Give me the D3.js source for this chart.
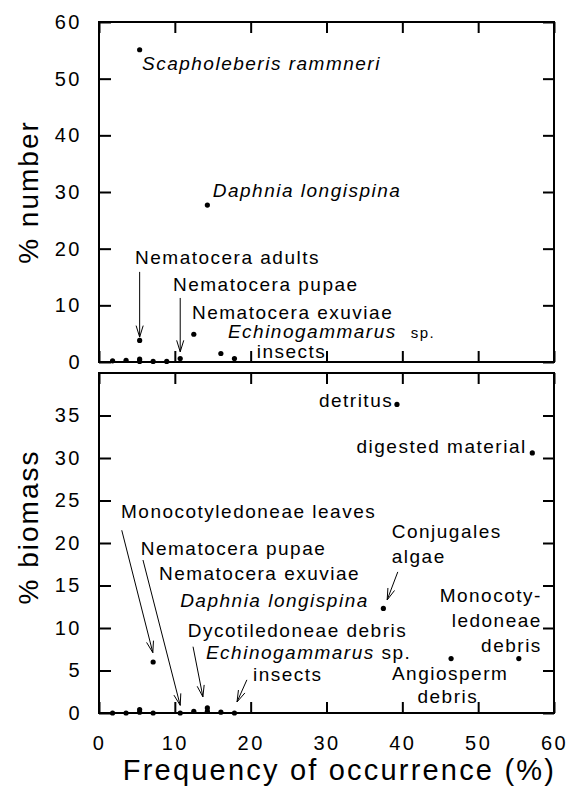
<!DOCTYPE html>
<html>
<head>
<meta charset="utf-8">
<script src="https://cdn.jsdelivr.net/npm/d3@7"></script>
<style>
  body { margin: 0; background: #fff; }
  svg text { font-family: "Liberation Sans", Arial, sans-serif; fill: #000; }
</style>
</head>
<body>
<div id="chart"></div>
<script>
// frequency of occurrence (%) vs % number, top panel
var topFreq   = [1.79, 3.57, 5.36, 5.36, 7.14, 8.93, 5.36, 14.29, 5.36, 10.71, 12.5, 16.07, 17.86];
var topNumber = [0.2,  0.3,  0.1,  0.5,  0.1,  0.1,  55.1, 27.7,  3.8,  0.6,   4.9,  1.5,   0.6];

// frequency of occurrence (%) vs % biomass, bottom panel
var botFreq    = [1.79, 3.57, 5.36, 5.36, 7.14, 10.71, 12.5, 14.29, 14.29, 16.07, 17.86, 7.14, 37.5, 39.29, 57.14, 46.43, 55.36];
var botBiomass = [0.0,  0.0,  0.1,  0.4,  0.0,  0.0,   0.2,  0.2,   0.6,   0.1,   0.0,   6.0,  12.3, 36.3,  30.6,  6.4,   6.4];

var xTicks = [0, 10, 20, 30, 40, 50, 60];
var topTicks = [0, 10, 20, 30, 40, 50, 60];
var botTicks = [0, 5, 10, 15, 20, 25, 30, 35];

var width = 574, height = 787;

var svg = d3.select("#chart").append("svg")
  .attr("width", width)
  .attr("height", height);

var x = d3.scaleLinear().domain([0, 60]).range([99, 554]);
var yTop = d3.scaleLinear().domain([0, 60]).range([362, 22]);
var yBot = d3.scaleLinear().domain([0, 40]).range([713, 373]);

// draws a framed panel with inward ticks on every side
function panel(y, yTickVals, showX) {
  var g = svg.append("g");
  var y0 = y.range()[0], y1 = y.range()[1];

  g.append("rect")
    .attr("x", x.range()[0]).attr("y", y1)
    .attr("width", x.range()[1] - x.range()[0])
    .attr("height", y0 - y1)
    .attr("fill", "none").attr("stroke", "#000").attr("stroke-width", 2);

  var left = g.append("g")
    .attr("transform", "translate(" + x.range()[0] + ",0)")
    .call(d3.axisLeft(y).tickValues(yTickVals).tickSizeInner(-12).tickSizeOuter(0).tickPadding(17));
  var right = g.append("g")
    .attr("transform", "translate(" + x.range()[1] + ",0)")
    .call(d3.axisRight(y).tickValues(yTickVals).tickSizeInner(-11).tickSizeOuter(0).tickFormat(""));
  var top = g.append("g")
    .attr("transform", "translate(0," + y1 + ")")
    .call(d3.axisTop(x).tickValues(xTicks).tickSizeInner(-11).tickSizeOuter(0).tickFormat(""));
  var bottom = g.append("g")
    .attr("transform", "translate(0," + y0 + ")")
    .call(d3.axisBottom(x).tickValues(xTicks).tickSizeInner(-11).tickSizeOuter(0).tickPadding(23)
      .tickFormat(showX ? d3.format("d") : ""));

  [left, right, top, bottom].forEach(function(a) {
    a.select(".domain").remove();
    a.selectAll("line").attr("stroke-width", 2);
    a.selectAll("text")
      .style("font-family", "'Liberation Sans', Arial, sans-serif")
      .style("font-size", "20px")
      .style("letter-spacing", "2.5px");
  });
  return g;
}

var gTop = panel(yTop, topTicks, false);
var gBot = panel(yBot, botTicks, true);

function dots(g, xs, ys, y) {
  g.append("g").selectAll("circle")
    .data(xs)
    .enter()
    .append("circle")
    .attr("cx", function(d) { return x(d); })
    .attr("cy", function(d, i) { return y(ys[i]); })
    .attr("r", 2.6)
    .attr("fill", "#000");
}
dots(gTop, topFreq, topNumber, yTop);
dots(gBot, botFreq, botBiomass, yBot);

// annotation text, positions in data units
// parts: [text, italic, fontSize, dx]
function label(g, y, px, py, parts, anchor) {
  var t = g.append("text")
    .attr("x", x(px)).attr("y", y(py))
    .attr("text-anchor", anchor || "start")
    .style("font-size", "19px")
    .style("letter-spacing", "1.5px");
  parts.forEach(function(p) {
    var s = t.append("tspan")
      .style("font-style", p[1] ? "italic" : "normal")
      .text(p[0]);
    if (p[2]) s.style("font-size", p[2] + "px");
    if (p[3]) s.attr("dx", p[3]);
  });
}

function arrow(g, y, ax, ay, bx, by) {
  var x1 = x(ax), y1 = y(ay), x2 = x(bx), y2 = y(by);
  var ang = Math.atan2(y2 - y1, x2 - x1);
  var len = 12, spread = 0.3;
  g.append("line")
    .attr("x1", x1).attr("y1", y1).attr("x2", x2).attr("y2", y2)
    .attr("stroke", "#000").attr("stroke-width", 1);
  [-spread, spread].forEach(function(s) {
    g.append("line")
      .attr("x1", x2).attr("y1", y2)
      .attr("x2", x2 - len * Math.cos(ang + s))
      .attr("y2", y2 - len * Math.sin(ang + s))
      .attr("stroke", "#000").attr("stroke-width", 1);
  });
}

// top panel labels
label(gTop, yTop, 5.67, 51.5, [["Scapholeberis rammneri", true]]);
label(gTop, yTop, 15.0, 29.1, [["Daphnia longispina", true]]);
label(gTop, yTop, 4.75, 17.3, [["Nematocera adults", false]]);
arrow(gTop, yTop, 5.36, 15.9, 5.36, 4.4);
label(gTop, yTop, 9.76, 12.5, [["Nematocera pupae", false]]);
arrow(gTop, yTop, 10.71, 11.3, 10.71, 1.8);
label(gTop, yTop, 12.26, 7.6, [["Nematocera exuviae", false]]);
label(gTop, yTop, 17.0, 4.2, [["Echinogammarus", true], ["sp.", false, 15, 14]]);
label(gTop, yTop, 20.8, 0.7, [["insects", false]]);

// bottom panel labels
label(gBot, yBot, 38.8, 36.0, [["detritus", false]], "end");
label(gBot, yBot, 56.4, 30.6, [["digested material", false]], "end");
label(gBot, yBot, 2.9, 22.9, [["Monocotyledoneae leaves", false]]);
arrow(gBot, yBot, 3.0, 21.5, 7.1, 7.1);
label(gBot, yBot, 5.5, 18.6, [["Nematocera pupae", false]]);
arrow(gBot, yBot, 5.8, 18.0, 10.71, 0.9);
label(gBot, yBot, 7.9, 15.6, [["Nematocera exuviae", false]]);
label(gBot, yBot, 10.7, 12.5, [["Daphnia longispina", true]]);
label(gBot, yBot, 38.6, 20.6, [["Conjugales", false]]);
label(gBot, yBot, 38.6, 17.6, [["algae", false]]);
arrow(gBot, yBot, 39.4, 16.6, 38.0, 13.3);
label(gBot, yBot, 11.7, 9.0, [["Dycotiledoneae debris", false]]);
arrow(gBot, yBot, 12.4, 7.8, 13.7, 1.9);
label(gBot, yBot, 14.1, 6.4, [["Echinogammarus", true], [" sp.", false]]);
label(gBot, yBot, 20.3, 3.8, [["insects", false]]);
arrow(gBot, yBot, 19.5, 3.9, 18.2, 1.3);
label(gBot, yBot, 58.4, 13.1, [["Monocoty-", false]], "end");
label(gBot, yBot, 58.4, 10.1, [["ledoneae", false]], "end");
label(gBot, yBot, 58.4, 7.2, [["debris", false]], "end");
label(gBot, yBot, 46.3, 3.9, [["Angiosperm", false]], "middle");
label(gBot, yBot, 46.0, 1.2, [["debris", false]], "middle");

// axis titles
svg.append("text")
  .attr("x", (x.range()[0] + x.range()[1]) / 2 + 13)
  .attr("y", 780)
  .attr("text-anchor", "middle")
  .style("font-size", "29px")
  .style("letter-spacing", "2.2px")
  .text("Frequency of occurrence (%)");

svg.append("text")
  .attr("transform", "translate(38,192) rotate(-90)")
  .attr("text-anchor", "middle")
  .style("font-size", "28px")
  .style("letter-spacing", "2px")
  .text("% number");

svg.append("text")
  .attr("transform", "translate(38,527) rotate(-90)")
  .attr("text-anchor", "middle")
  .style("font-size", "28px")
  .style("letter-spacing", "2px")
  .text("% biomass");
</script>
</body>
</html>
